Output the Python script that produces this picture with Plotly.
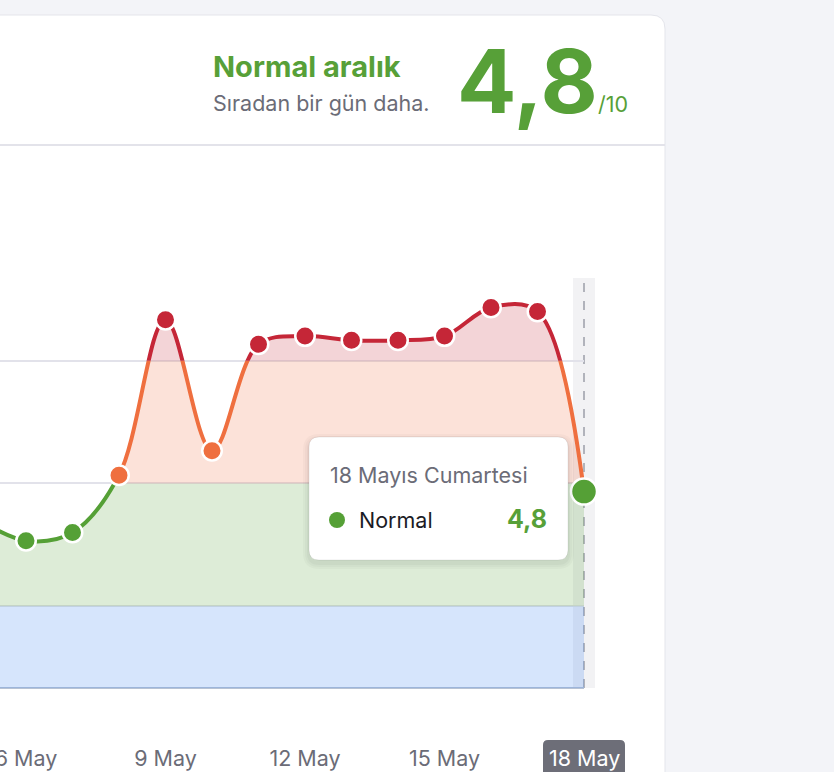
import plotly.graph_objects as go
import pandas as pd

# ---------------- data ----------------
dates = ["2024-05-05", "2024-05-06", "2024-05-07", "2024-05-08", "2024-05-09",
         "2024-05-10", "2024-05-11", "2024-05-12", "2024-05-13", "2024-05-14",
         "2024-05-15", "2024-05-16", "2024-05-17", "2024-05-18"]
scores = [4.1, 3.6, 3.8, 5.2, 9.0, 5.8, 8.4, 8.6, 8.5, 8.5, 8.6, 9.3, 9.2, 4.8]

zone_bounds = [0, 2, 5, 8, 10]
zone_names = ["Düşük", "Normal", "Yüksek", "Çok yüksek"]
zone_line = ["#3f86ee", "#55a036", "#ef6f3f", "#c52637"]
zone_fill = ["rgba(61,131,240,0.21)", "rgba(85,160,54,0.2)",
             "rgba(239,111,63,0.2)", "rgba(197,38,55,0.2)"]

tick_dates = ["2024-05-06", "2024-05-09", "2024-05-12", "2024-05-15"]
tick_text = ["6 May", "9 May", "12 May", "15 May"]
last_tick_text = "18 May"
tr_months = ["Ocak", "Şubat", "Mart", "Nisan", "Mayıs", "Haziran", "Temmuz",
             "Ağustos", "Eylül", "Ekim", "Kasım", "Aralık"]
tr_days = ["Pazartesi", "Salı", "Çarşamba", "Perşembe", "Cuma", "Cumartesi", "Pazar"]
subtitle = "Sıradan bir gün daha."

# ---------------- geometry ----------------
W, H = 834, 772
PLOT_L, PLOT_R, PLOT_T, PLOT_B = 0, 584, 278, 688
DAY_PX = 46.5
YMAX = zone_bounds[-1]
YTOP = YMAX * 1.002  # tiny headroom so the top grid line is kept


def px(x):
    return x / W


def py(y):
    return 1 - y / H


FONT = "Inter"
GREEN = "#57a038"
GREY_TXT = "#6b6c77"

x_dates = pd.to_datetime(dates)
last = x_dates[-1]
x_start = last - pd.Timedelta(days=(PLOT_R - PLOT_L) / DAY_PX)
xdom = [px(PLOT_L), px(PLOT_R)]
ydom = [py(PLOT_B), py(PLOT_T)]


def zone_of(v):
    for i in range(len(zone_bounds) - 1):
        if v <= zone_bounds[i + 1]:
            return i
    return len(zone_bounds) - 2


def yfrac(v):
    return ydom[0] + (ydom[1] - ydom[0]) * v / YTOP


fig = go.Figure()
layout_axes = {}

# zone subplots: each clips the same curve to its own value band
nz = len(zone_bounds) - 1
for i in range(nz):
    lo, hi = zone_bounds[i], zone_bounds[i + 1]
    if i == nz - 1:
        hi = YTOP
    ax = "y%d" % (i + 2)
    layout_axes["yaxis%d" % (i + 2)] = dict(
        domain=[yfrac(lo), yfrac(hi)], range=[lo, hi], anchor="x", showgrid=False,
        zeroline=False, showticklabels=False, ticks="", fixedrange=True)
    fig.add_trace(go.Scatter(
        x=x_dates, y=scores, xaxis="x", yaxis=ax, mode="lines",
        line=dict(color=zone_line[i], width=4, shape="spline", smoothing=1),
        fill="tozeroy", fillcolor=zone_fill[i], hoverinfo="skip"))

# main axis (grid) dummy
fig.add_trace(go.Scatter(x=[x_dates[0]], y=[None], xaxis="x", yaxis="y",
                         mode="markers", hoverinfo="skip"))

# markers on top
mcols = [zone_line[zone_of(v)] for v in scores]
msize = [19.5] * (len(scores) - 1) + [26]
mlw = [2.5] * len(scores)
fig.add_trace(go.Scatter(
    x=x_dates, y=scores, xaxis="x", yaxis="y6", mode="markers",
    marker=dict(color=mcols, size=msize, opacity=1,
                line=dict(color="white", width=mlw)),
    cliponaxis=False, hoverinfo="skip"))

layout_axes["yaxis6"] = dict(domain=ydom, range=[0, YTOP], anchor="x",
                             showgrid=False, zeroline=False,
                             showticklabels=False, ticks="", fixedrange=True)

shapes = []


def rrect(x0, y0, x1, y1, r):
    X0, X1 = px(x0), px(x1)
    Y0, Y1 = py(y0), py(y1)
    rx, ry = r / W, r / H
    return (f"M {X0+rx},{Y0} L {X1-rx},{Y0} Q {X1},{Y0} {X1},{Y0-ry} "
            f"L {X1},{Y1+ry} Q {X1},{Y1} {X1-rx},{Y1} L {X0+rx},{Y1} "
            f"Q {X0},{Y1} {X0},{Y1+ry} L {X0},{Y0-ry} Q {X0},{Y0} {X0+rx},{Y0} Z")


# card
shapes.append(dict(type="path", xref="paper", yref="paper", layer="below",
                   path=rrect(-30, 15, 665, 800, 14),
                   fillcolor="white", line=dict(color="#e4e5eb", width=1)))
shapes.append(dict(type="line", xref="paper", yref="paper", layer="below",
                   x0=px(-10), x1=px(665), y0=py(145), y1=py(145),
                   line=dict(color="#e3e3ea", width=2)))
# hover band + dashed line
shapes.append(dict(type="rect", xref="paper", yref="paper", layer="below",
                   x0=px(PLOT_R - 11), x1=px(PLOT_R + 11), y0=py(PLOT_B), y1=py(PLOT_T),
                   fillcolor="rgba(20,20,60,0.055)", line=dict(width=0)))
shapes.append(dict(type="line", xref="paper", yref="paper", layer="below",
                   x0=px(PLOT_R), x1=px(PLOT_R), y0=py(PLOT_B), y1=py(PLOT_T),
                   line=dict(color="#9c9ea8", width=1.5, dash="dash")))

# tooltip with shadow
TT = (309, 437, 568, 560)
for k, a in enumerate([0.025, 0.025, 0.03]):
    g = 6 - 2 * k
    shapes.append(dict(type="path", xref="paper", yref="paper", layer="above",
                       path=rrect(TT[0] - g, TT[1] - g + 3, TT[2] + g, TT[3] + g + 3, 10 + g),
                       fillcolor="rgba(0,0,0,%s)" % a, line=dict(width=0)))
shapes.append(dict(type="path", xref="paper", yref="paper", layer="above",
                   path=rrect(*TT, 10), fillcolor="white",
                   line=dict(color="rgba(0,0,0,0.07)", width=1)))
shapes.append(dict(type="circle", xref="paper", yref="paper", layer="above",
                   x0=px(337 - 8), x1=px(337 + 8), y0=py(520 - 8), y1=py(520 + 8),
                   fillcolor=zone_line[zone_of(scores[-1])], line=dict(width=0)))
# 18 May highlighted tick box
shapes.append(dict(type="path", xref="paper", yref="paper", layer="above",
                   path=rrect(543, 740, 625, 790, 5), fillcolor="#6d6e78",
                   line=dict(width=0)))


def fmt(v):
    return ("%.1f" % v).replace(".", ",")


cur = scores[-1]
zname = zone_names[zone_of(cur)]
tt_title = f"{last.day} {tr_months[last.month - 1]} {tr_days[last.weekday()]}"

ann = []
ann.append(dict(text=f"<b>{zname} aralık</b>", x=px(211), y=py(67), xanchor="left",
                yanchor="middle", font=dict(family=FONT, size=29, color=GREEN)))
ann.append(dict(text=subtitle, x=px(211), y=py(103), xanchor="left",
                yanchor="middle", font=dict(family=FONT, size=21.5, color=GREY_TXT)))
ann.append(dict(text=f"<b>{fmt(cur)}</b>", x=px(600), y=py(81), xanchor="right",
                yanchor="middle", font=dict(family=FONT, size=88, color=GREEN)))
ann.append(dict(text="/10", x=px(596), y=py(104), xanchor="left",
                yanchor="middle", font=dict(family=FONT, size=21.5, color=GREEN)))
ann.append(dict(text=tt_title, x=px(328), y=py(475), xanchor="left",
                yanchor="middle", font=dict(family=FONT, size=21.5, color=GREY_TXT)))
ann.append(dict(text=zname, x=px(357), y=py(520), xanchor="left",
                yanchor="middle", font=dict(family=FONT, size=21.5, color="#1b1b25")))
ann.append(dict(text=f"<b>{fmt(cur)}</b>", x=px(549), y=py(519), xanchor="right",
                yanchor="middle", font=dict(family=FONT, size=25, color=GREEN)))
ann.append(dict(text=last_tick_text, x=px(584), y=py(758), xanchor="center",
                yanchor="middle", font=dict(family=FONT, size=21.5, color="white")))
for a in ann:
    a.update(xref="paper", yref="paper", showarrow=False)

fig.update_layout(
    width=W, height=H, margin=dict(l=0, r=0, t=0, b=0, autoexpand=False),
    paper_bgcolor="#f3f4f8", plot_bgcolor="rgba(0,0,0,0)",
    showlegend=False, hovermode=False,
    xaxis=dict(domain=xdom, range=[x_start, last], type="date",
               tickvals=pd.to_datetime(tick_dates), ticktext=tick_text,
               tickfont=dict(family=FONT, size=21.5, color=GREY_TXT),
               ticks="outside", ticklen=0, ticklabelstandoff=51,
               ticklabeloverflow="allow", automargin=False,
               showgrid=False, zeroline=False, showline=False, fixedrange=True),
    yaxis=dict(domain=ydom, range=[0, YTOP], tickvals=zone_bounds,
               showgrid=True, gridcolor="#e2e2ea", gridwidth=2,
               zeroline=True, zerolinecolor="#b7c2d4", zerolinewidth=2,
               showticklabels=False, ticks="", fixedrange=True),
    shapes=shapes, annotations=ann,
    **layout_axes,
)

fig.write_html("out.html")
